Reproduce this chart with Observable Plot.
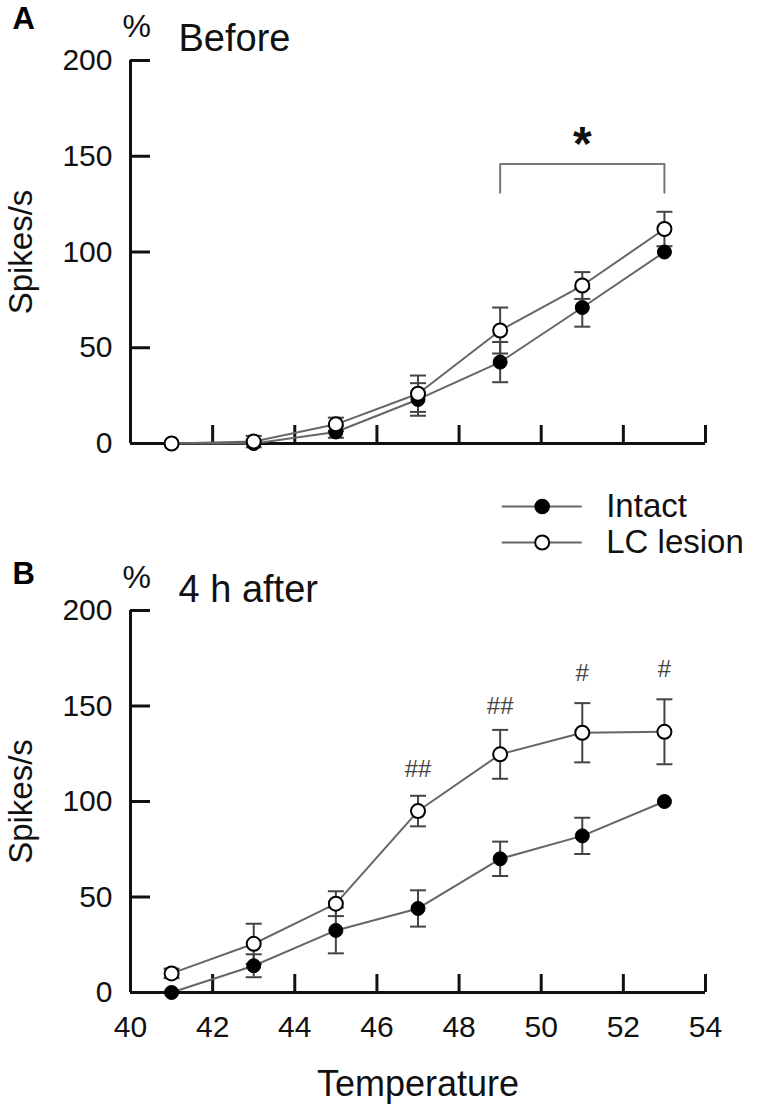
<!DOCTYPE html>
<html><head><meta charset="utf-8">
<script src="https://cdn.jsdelivr.net/npm/d3@7"></script>
<script src="https://cdn.jsdelivr.net/npm/@observablehq/plot@0.6"></script>
<style>
body{margin:0;background:#fff;}
#fig{position:relative;width:758px;height:1112px;overflow:hidden;background:#fff;}
#fig > div{position:absolute;}
</style></head><body>
<div id="fig"><div id="pa" style="left:0;top:0"></div><div id="pb" style="left:0;top:480px"></div><div id="leg" style="left:480px;top:480px"></div></div>
<script>
// ---------- data ----------
const temps = [41, 43, 45, 47, 49, 51, 53];
const xTicks = [40, 42, 44, 46, 48, 50, 52, 54];
const yTicks = [0, 50, 100, 150, 200];
const seriesNames = ["Intact", "LC lesion"];

// Panel A: Before
const beforeIntact = [0, 0, 6, 23, 42.5, 71, 100];
const beforeIntactErr = [0, 0, 3, 8.5, 10.5, 10, 0];
const beforeLesion = [0, 1, 10, 26, 59, 82.5, 112];
const beforeLesionErr = [0, 3, 3.5, 9.5, 12, 7, 9];
const bracketTemps = [49, 53];
const bracketLevels = [131, 146];
const starTemp = [51];
const starLevel = [156];

// Panel B: 4 h after
const afterIntact = [0, 14, 32.5, 44, 70, 82, 100];
const afterIntactErr = [0, 6, 12, 9.5, 9, 9.5, 0];
const afterLesion = [10, 25.5, 46.5, 95, 124.7, 136, 136.5];
const afterLesionErr = [2.5, 10.5, 6.5, 8, 12.8, 15.5, 17];
const hashTemps = [47, 49, 51, 53];
const hashLabels = ["##", "##", "#", "#"];
const hashLevels = [117, 150, 167, 169];

// ---------- drawing ----------
const FONT = '"Liberation Sans", Arial, Helvetica, sans-serif';
const W = 758, ML = 130, MR = 53;
const cap = {draw(ctx, size) { const w = Math.sqrt(size / Math.PI); ctx.moveTo(-w, 0); ctx.lineTo(w, 0); }};

function rows(m, e, series) { return temps.map((t, i) => ({temp: t, mean: m[i], err: e[i], series})); }

function panel({letter, title, intact, intactErr, lesion, lesionErr, height, marginTop, marginBottom,
                showXLabels, letterDy, pctDy, titleDy, extra}) {
  const dI = rows(intact, intactErr, "Intact");
  const dL = rows(lesion, lesionErr, "LC lesion");
  const data = [...dI, ...dL];
  const bars = data.filter(d => d.err > 0);
  const fw = W - ML - MR, fh = height - marginTop - marginBottom;
  const marks = [
    Plot.ruleY(yTicks, {stroke: "#111", strokeWidth: 3, insetRight: fw - 20}),
    Plot.ruleX(xTicks, {stroke: "#111", strokeWidth: 3, insetTop: fh - 18}),
    Plot.ruleX([40], {stroke: "#111", strokeWidth: 3}),
    Plot.ruleY([0], {stroke: "#111", strokeWidth: 3}),
    Plot.axisY(yTicks, {tickSize: 0, tickPadding: 18, fontSize: 30, label: null, fill: "#111"}),
    showXLabels ? Plot.axisX(xTicks, {tickSize: 0, tickPadding: 23, fontSize: 30, label: null, fill: "#111"}) : null,
    Plot.line(data, {x: "temp", y: "mean", z: "series", stroke: "#666", strokeWidth: 2}),
    Plot.ruleX(bars, {x: "temp", y1: d => d.mean - d.err, y2: d => d.mean + d.err, stroke: "#444", strokeWidth: 2}),
    Plot.dot(bars, {x: "temp", y: d => d.mean + d.err, symbol: cap, r: 8, stroke: "#444", strokeWidth: 2}),
    Plot.dot(bars, {x: "temp", y: d => d.mean - d.err, symbol: cap, r: 8, stroke: "#444", strokeWidth: 2}),
    Plot.dot(dI, {x: "temp", y: "mean", r: 7, fill: "#000", stroke: "#000", strokeWidth: 1}),
    Plot.dot(dL, {x: "temp", y: "mean", r: 7, fill: "#fff", stroke: "#000", strokeWidth: 2}),
    Plot.text([letter], {frameAnchor: "top-left", dx: -118, dy: letterDy, textAnchor: "start", lineAnchor: "bottom", fontSize: 31, fontWeight: "bold", fill: "#000"}),
    Plot.text(["%"], {frameAnchor: "top-left", dx: -8, dy: pctDy, textAnchor: "start", lineAnchor: "bottom", fontSize: 32, fill: "#111"}),
    Plot.text([title], {frameAnchor: "top-left", dx: 48, dy: titleDy, textAnchor: "start", lineAnchor: "bottom", fontSize: 38, fill: "#111"}),
    Plot.text(["Spikes/s"], {frameAnchor: "left", dx: -109, rotate: -90, textAnchor: "middle", lineAnchor: "middle", fontSize: 33, fill: "#111"}),
    ...(extra || [])
  ];
  return Plot.plot({
    width: W, height, marginLeft: ML, marginRight: MR, marginTop, marginBottom,
    x: {domain: [40, 54], axis: null},
    y: {domain: [0, 200], axis: null},
    style: {fontFamily: FONT, color: "#111", background: "transparent", overflow: "visible"},
    marks
  });
}

const bracketData = [
  {x: bracketTemps[0], y: bracketLevels[0]},
  {x: bracketTemps[0], y: bracketLevels[1]},
  {x: bracketTemps[1], y: bracketLevels[1]},
  {x: bracketTemps[1], y: bracketLevels[0]}
];

document.getElementById("pa").appendChild(panel({
  letter: "A", title: "Before",
  intact: beforeIntact, intactErr: beforeIntactErr, lesion: beforeLesion, lesionErr: beforeLesionErr,
  height: 480, marginTop: 60, marginBottom: 37, showXLabels: false,
  letterDy: -32, pctDy: -24, titleDy: -10,
  extra: [
    Plot.line(bracketData, {x: "x", y: "y", stroke: "#777", strokeWidth: 2}),
    Plot.text(starTemp.map((t, i) => ({t, v: starLevel[i]})), {x: "t", y: "v", text: () => "*", fontSize: 48, fontWeight: "bold", lineAnchor: "middle", fill: "#111"})
  ]
}));

document.getElementById("pb").appendChild(panel({
  letter: "B", title: "4 h after",
  intact: afterIntact, intactErr: afterIntactErr, lesion: afterLesion, lesionErr: afterLesionErr,
  height: 632, marginTop: 130, marginBottom: 120, showXLabels: true,
  letterDy: -27, pctDy: -23, titleDy: -9,
  extra: [
    Plot.text(hashTemps.map((t, i) => ({t, v: hashLevels[i], s: hashLabels[i]})), {x: "t", y: "v", text: "s", fontSize: 24, fontFamily: FONT, lineAnchor: "middle", fill: "#444"}),
    Plot.text(["Temperature"], {frameAnchor: "bottom", dy: 103, lineAnchor: "bottom", fontSize: 36, fill: "#111"})
  ]
}));

document.getElementById("leg").appendChild(Plot.plot({
  width: 278, height: 80, margin: 0,
  x: {domain: [0, 1], range: [21.7, 101.7], axis: null},
  y: {type: "point", domain: seriesNames, range: [26, 62], padding: 0, axis: null},
  style: {fontFamily: FONT, color: "#111", background: "transparent", overflow: "visible"},
  marks: [
    Plot.ruleY(seriesNames, {y: d => d, x1: 0, x2: 1, stroke: "#666", strokeWidth: 2}),
    Plot.dot([seriesNames[0]], {x: 0.5, y: d => d, r: 7, fill: "#000", stroke: "#000"}),
    Plot.dot([seriesNames[1]], {x: 0.5, y: d => d, r: 7, fill: "#fff", stroke: "#000", strokeWidth: 2}),
    Plot.text(seriesNames, {x: 1, y: d => d, dx: 24, textAnchor: "start", lineAnchor: "middle", fontSize: 33, fill: "#111"})
  ]
}));
</script>
</body></html>
